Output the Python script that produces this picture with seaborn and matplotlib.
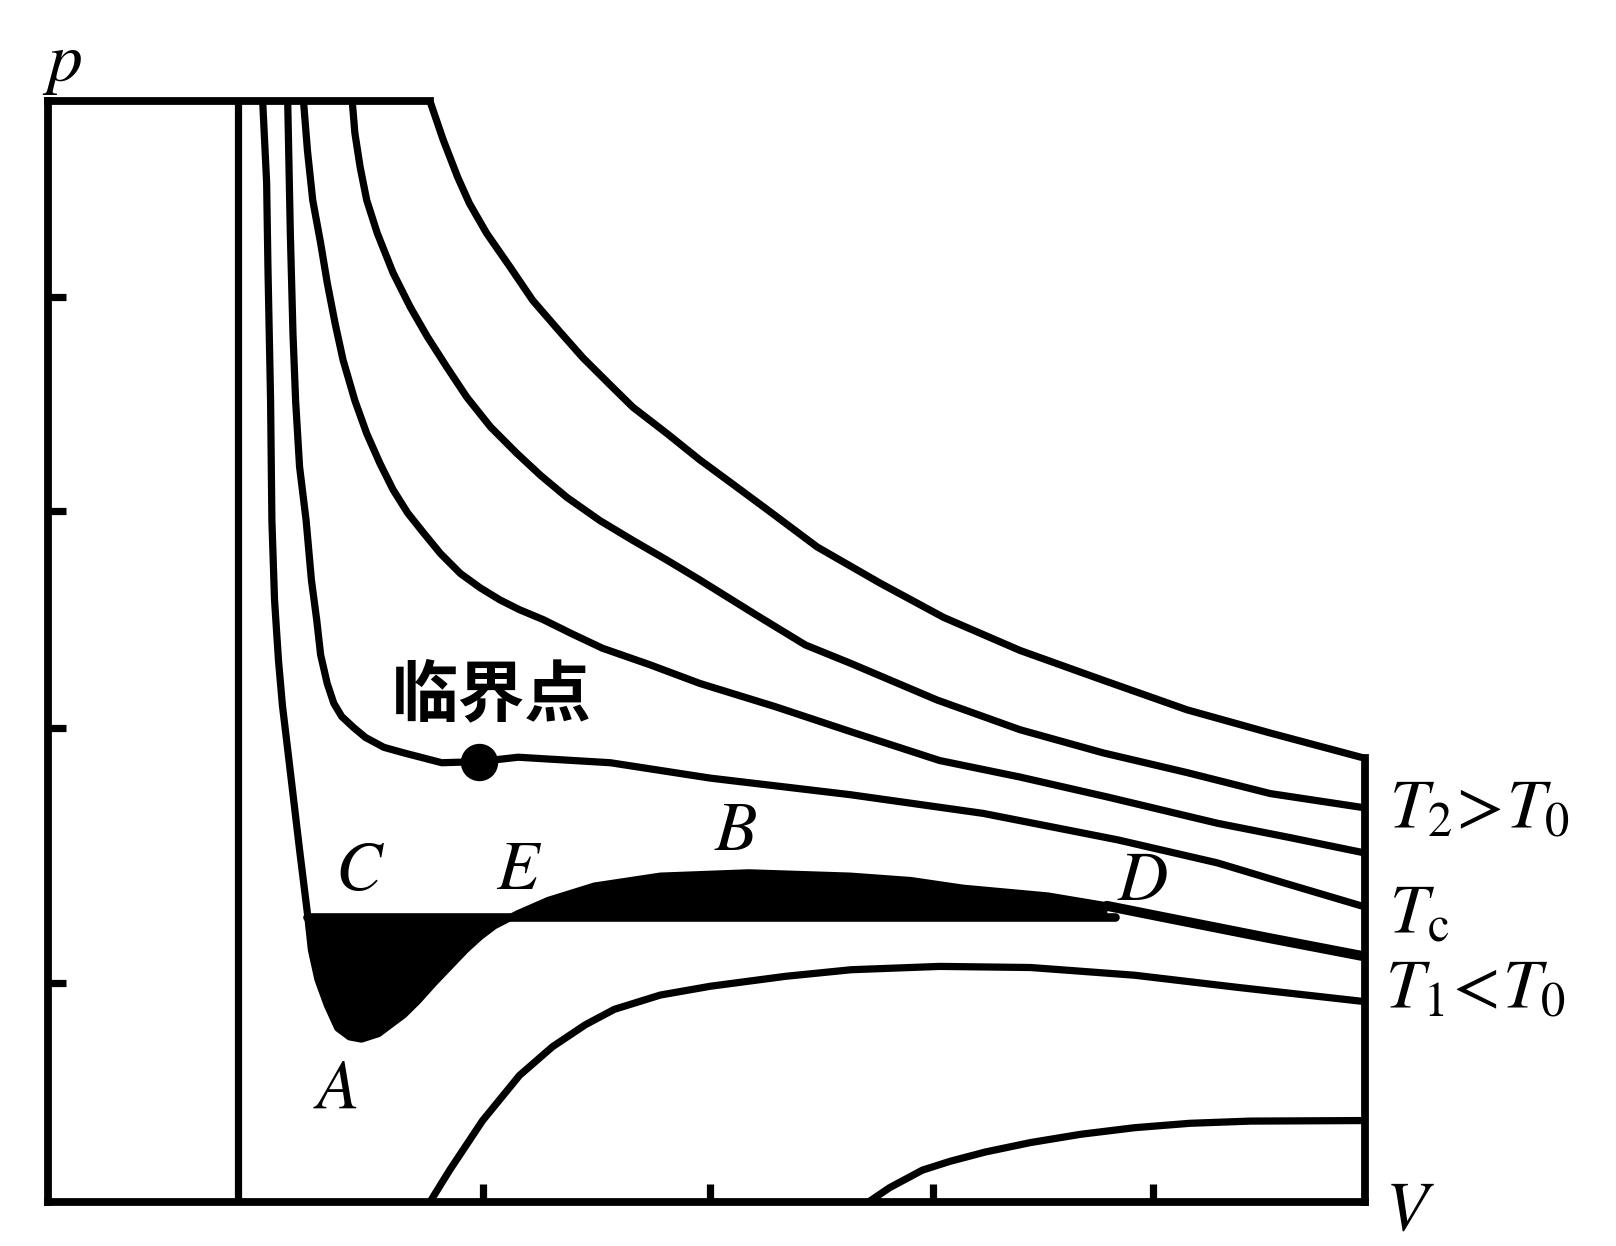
import numpy as np
import pandas as pd
import matplotlib
matplotlib.use("Agg")
import matplotlib.pyplot as plt
import seaborn as sns

# ---------------- data ----------------
# vertical asymptote V = b
V_b = 1.44

# T1 isotherm with the van der Waals loop (C, A, E, B, D)
T1_V = [1.63, 1.66, 1.67, 1.69, 1.70, 1.72, 1.75, 1.78, 1.82, 1.91, 1.97,
        2.00, 2.05, 2.12, 2.20, 2.29, 2.38, 2.51, 2.61, 2.70, 2.81, 2.93, 3.05,
        3.17, 3.28, 3.39, 3.57, 3.80, 4.15, 4.65, 5.32, 6.09, 6.55, 6.95, 7.59,
        8.04, 8.50, 9.26, 10.0]
T1_p = [10.0, 9.26, 8.49, 7.28, 6.19, 5.47, 4.92, 4.51, 4.11, 3.20, 2.62,
        2.29, 2.02, 1.79, 1.58, 1.50, 1.48, 1.53, 1.62, 1.70, 1.83, 1.99, 2.14,
        2.29, 2.41, 2.51, 2.62, 2.74, 2.87, 2.96, 2.99, 2.96, 2.92, 2.85, 2.78,
        2.69, 2.58, 2.40, 2.23]

# critical isotherm Tc
Tc_V = [1.82, 1.84, 1.86, 1.88, 1.91, 1.96, 2.00, 2.04, 2.07, 2.12, 2.17, 2.23,
        2.32, 2.41, 2.55, 2.70, 2.99, 3.27, 3.57, 4.27, 5.03, 6.09, 7.10, 8.12,
        8.88, 9.38, 10.0]
Tc_p = [10.0, 8.80, 7.89, 7.28, 6.68, 6.19, 5.65, 5.29, 4.97, 4.71, 4.53, 4.41,
        4.31, 4.22, 4.13, 4.08, 3.99, 4.00, 4.04, 3.99, 3.85, 3.70, 3.53, 3.29,
        3.08, 2.90, 2.68]

# higher isotherms
H1_V = [1.94, 1.97, 2.01, 2.07, 2.12, 2.18, 2.24, 2.33, 2.42, 2.52, 2.62, 2.73,
        2.85, 2.98, 3.13, 3.28, 3.43, 3.58, 3.76, 3.98, 4.21, 4.57, 4.95, 5.52,
        6.10, 6.77, 7.38, 8.04, 8.88, 9.43, 10.0]
H1_p = [10.0, 9.55, 9.10, 8.71, 8.35, 7.98, 7.65, 7.28, 6.98, 6.71, 6.47, 6.26,
        6.08, 5.89, 5.71, 5.58, 5.47, 5.38, 5.29, 5.16, 5.03, 4.88, 4.71, 4.50,
        4.27, 4.01, 3.86, 3.68, 3.44, 3.31, 3.17]

H2_V = [2.31, 2.33, 2.37, 2.42, 2.50, 2.62, 2.75, 2.88, 3.03, 3.18, 3.36, 3.56,
        3.74, 3.94, 4.19, 4.44, 4.70, 4.95, 5.38, 5.75, 6.10, 6.75, 7.38, 8.01,
        8.65, 9.28, 10.0]
H2_p = [10.0, 9.71, 9.40, 9.10, 8.80, 8.44, 8.13, 7.86, 7.58, 7.31, 7.04, 6.80,
        6.60, 6.40, 6.19, 6.01, 5.83, 5.65, 5.33, 5.06, 4.89, 4.56, 4.29, 4.08,
        3.90, 3.71, 3.58]

H3_V = [2.90, 3.00, 3.11, 3.20, 3.33, 3.51, 3.68, 3.89, 4.06, 4.27, 4.44,
        4.70, 4.95, 5.20, 5.46, 5.84, 6.32, 6.80, 7.38, 8.01, 8.65, 9.28, 10.0]
H3_p = [10.0, 9.65, 9.31, 9.07, 8.80, 8.49, 8.19, 7.90, 7.67, 7.42, 7.22,
        6.98, 6.74, 6.52, 6.29, 5.95, 5.62, 5.31, 5.01, 4.74, 4.47, 4.26, 4.03]

# lower curves rising from the V axis
L1_V = [2.90, 3.05, 3.30, 3.58, 3.83, 4.08, 4.30, 4.65, 5.03, 5.41, 5.60, 6.10,
        6.77, 7.46, 8.25, 9.03, 10.0]
L1_p = [0.00, 0.29, 0.74, 1.15, 1.41, 1.61, 1.75, 1.88, 1.96, 2.02, 2.05, 2.11,
        2.14, 2.13, 2.06, 1.95, 1.82]

L2_V = [6.23, 6.39, 6.64, 6.85, 7.12, 7.46, 7.84, 8.25, 8.67, 9.13, 10.0]
L2_p = [0.00, 0.13, 0.29, 0.37, 0.455, 0.54, 0.615, 0.675, 0.715, 0.735, 0.74]

# Maxwell (equal-area) line between C and D
p_maxwell = 2.59
V_C, V_D = 1.97, 8.10

# critical point
crit_V, crit_p = 3.27, 4.00

# ticks
x_ticks = [3.30, 5.03, 6.72, 8.39]
y_ticks = [1.99, 4.31, 6.28, 8.22]

# ---------------- figure ----------------
sns.set_theme(style="white")
plt.rcParams["font.family"] = ["Noto Sans CJK SC", "DejaVu Sans"]
plt.rcParams["mathtext.fontset"] = "stix"
plt.rcParams["text.color"] = "black"

LW = 5.2
fig = plt.figure(figsize=(16.16, 12.46), dpi=100)
ax = fig.add_axes([0.0297, 0.0353, 0.8150, 0.8836])

curves = {
    "T1": (T1_V, T1_p), "Tc": (Tc_V, Tc_p), "H1": (H1_V, H1_p), "H2": (H2_V, H2_p),
    "H3": (H3_V, H3_p), "L1": (L1_V, L1_p), "L2": (L2_V, L2_p),
    "b": ([V_b, V_b], [0.0, 10.0]),
}
df = pd.concat(
    [pd.DataFrame({"V": v, "p": p, "curve": k}) for k, (v, p) in curves.items()],
    ignore_index=True,
)
sns.lineplot(data=df, x="V", y="p", units="curve", estimator=None, sort=False,
             color="black", lw=LW, ax=ax, legend=False,
             solid_joinstyle="round", solid_capstyle="round")

# equal-area region
Va = np.array(T1_V)
Pa = np.array(T1_p)
m = (Va >= V_C) & (Va <= V_D + 0.3)
ax.fill_between(Va[m], Pa[m], p_maxwell, color="black", lw=0, interpolate=True)
sns.lineplot(x=[V_C, V_D], y=[p_maxwell, p_maxwell], color="black", lw=LW + 1, ax=ax)

# heavier stroke of T1 beyond D
tail = Va >= 8.04
sns.lineplot(x=Va[tail], y=Pa[tail], sort=False, color="black", lw=LW + 2, ax=ax,
             solid_capstyle="round")

# critical point
sns.scatterplot(x=[crit_V], y=[crit_p], s=620, color="black", edgecolor="black",
                zorder=5, ax=ax, legend=False)

ax.set_xlim(0, 10)
ax.set_ylim(0, 10)
ax.set_xticks(x_ticks)
ax.set_yticks(y_ticks)
ax.set_xticklabels([])
ax.set_yticklabels([])
ax.set_xlabel("")
ax.set_ylabel("")
ax.tick_params(axis="both", direction="in", length=13, width=LW, color="black",
               bottom=True, left=True, top=False, right=False)

for s in ax.spines.values():
    s.set_color("black")
    s.set_linewidth(LW + 0.4)
ax.spines["top"].set_bounds(0, H3_V[0])
ax.spines["right"].set_bounds(0, H3_p[-1])

fs = 50
kw = dict(fontsize=fs, color="black")
ax.text(0.11, 10.36, r"$p$", ha="center", va="center", **kw)
ax.text(10.15, -0.25, r"$V$", ha="left", va="baseline", **kw)
ax.text(2.37, 3.01, r"$C$", ha="center", va="center", **kw)
ax.text(3.58, 3.02, r"$E$", ha="center", va="center", **kw)
ax.text(5.22, 3.38, r"$B$", ha="center", va="center", **kw)
ax.text(2.18, 1.04, r"$A$", ha="center", va="center", **kw)
ax.text(8.31, 2.92, r"$D$", ha="center", va="center", **kw)
ax.text(10.18, 3.40, r"$T_2\!>\!T_0$", ha="left", va="baseline", **kw)
ax.text(10.18, 2.45, r"$T_{\mathrm{c}}$", ha="left", va="baseline", **kw)
ax.text(10.15, 1.77, r"$T_1\!<\!T_0$", ha="left", va="baseline", **kw)
ax.text(3.37, 4.60, "临界点", fontsize=48, fontweight="bold", ha="center", va="center",
        color="black", family=["Noto Sans CJK SC", "DejaVu Sans"])

fig.savefig("out.png", dpi=100, facecolor="white")
